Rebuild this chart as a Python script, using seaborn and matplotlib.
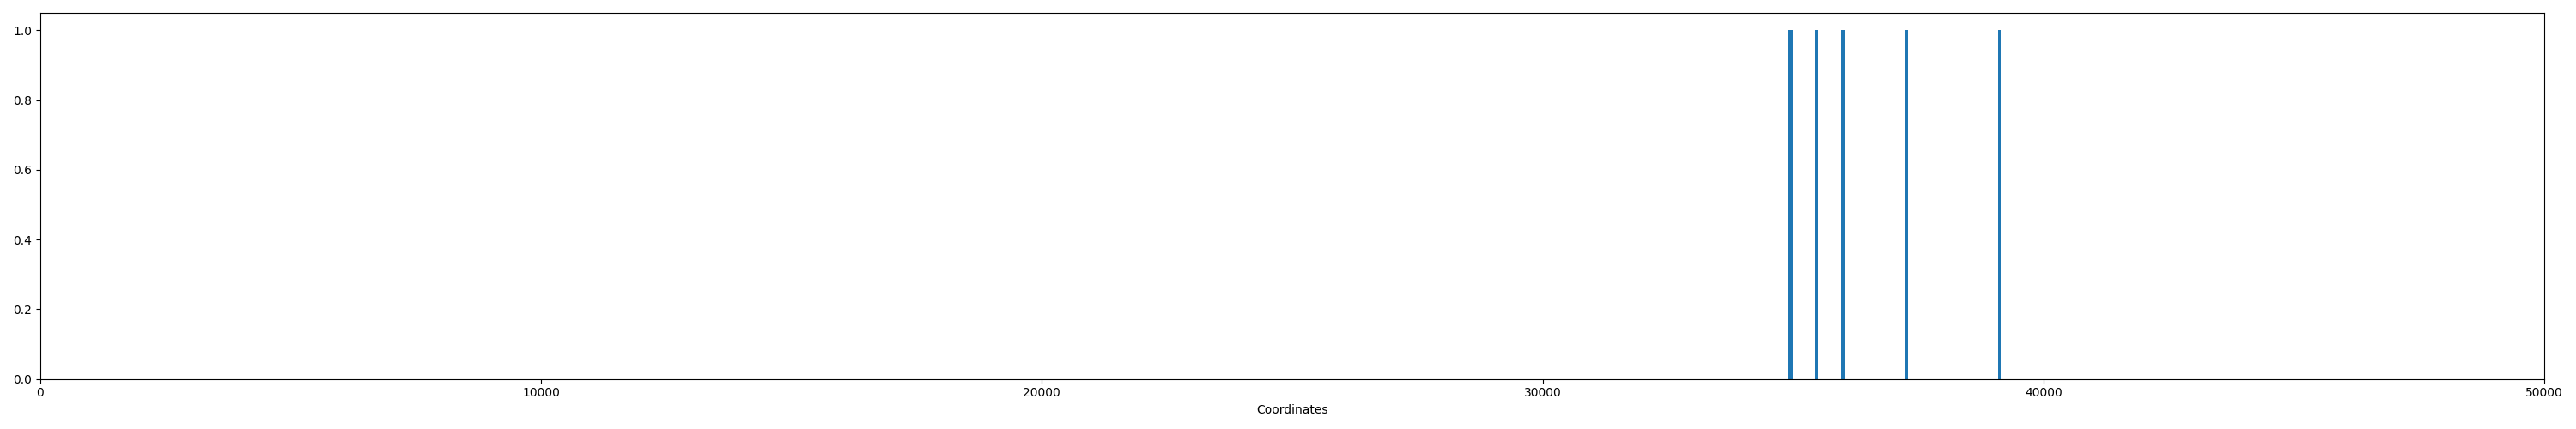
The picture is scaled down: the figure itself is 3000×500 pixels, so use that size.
import matplotlib
matplotlib.use('Agg')
import matplotlib.pyplot as plt
import seaborn as sns
import numpy as np
import pandas as pd

# positions (one hit each, 50-unit bins)
coordinates = [34925, 34975, 35475, 35975, 36025, 37275, 39125]
x_range = (0, 50000)
bin_width = 50

hits = pd.DataFrame({'Coordinates': coordinates})

fig, ax = plt.subplots(figsize=(30, 5), dpi=100)
sns.histplot(data=hits, x='Coordinates', binwidth=bin_width, binrange=x_range,
             color='#1f77b4', alpha=1, linewidth=0, ax=ax)
ax.set_xlim(*x_range)
ax.set_xlabel('Coordinates')
ax.set_ylabel('')
ax.set_yticks(np.arange(0, 1.01, 0.2))
plt.tight_layout()
plt.savefig('out.png')
